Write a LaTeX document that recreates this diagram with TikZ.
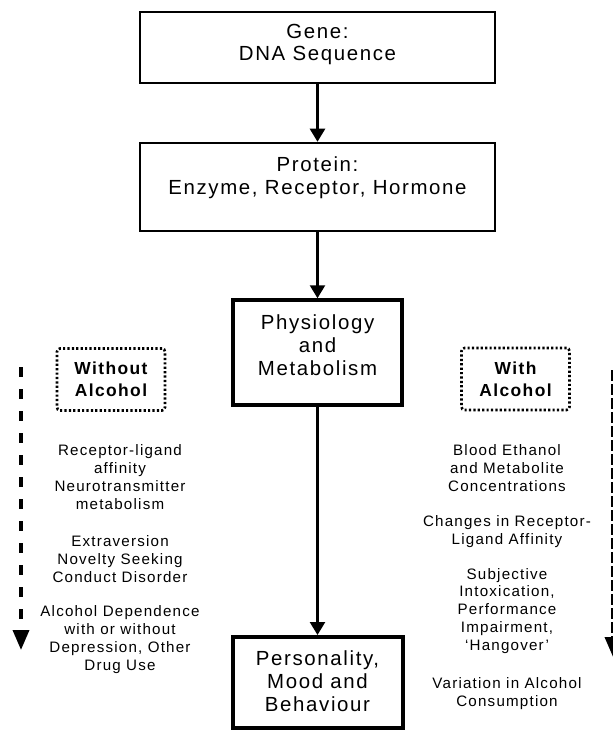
\documentclass[tikz,border=0pt]{standalone}
\usepackage{fontspec}
\setmainfont{Liberation Sans}[LetterSpace=8]
\usetikzlibrary{arrows.meta}

\tikzset{
  stage/.style={draw, line width=#1, rectangle, inner sep=0pt},
  stage/.default=2.5bp,
  stagetext/.style={align=center, inner sep=0pt,
    font=\fontsize{20.5}{23}\selectfont},
  flow/.style={line width=2.5bp, -{Triangle[width=15bp,length=13bp]}},
  condition/.style={draw, dash pattern=on 2.2bp off 2.2bp, line width=2.6bp,
    rounded corners=3bp, minimum width=108bp, minimum height=62bp,
    align=center, inner sep=0pt, font=\bfseries\fontsize{17.5}{22}\selectfont},
  note/.style={align=center, inner sep=0pt, font=\fontsize{15.2}{18}\selectfont},
  trend/.style={line width=3.5bp, -{Triangle[width=16bp,length=20bp]}},
}

\begin{document}
\begin{tikzpicture}[x=1bp, y=-1bp]
\clip (0,0) rectangle (613,732);

% central chain of stages: frames
\node[stage, minimum width=355bp, minimum height=71bp] (gene) at (317.5,47.5) {};
\node[stage, minimum width=355bp, minimum height=88bp] (protein) at (317.5,187) {};
\node[stage=3.5bp, minimum width=169bp, minimum height=105bp] (phys) at (317.5,352.5) {};
\node[stage=4bp, minimum width=170bp, minimum height=91bp] (pers) at (317.5,682.5) {};

% central chain of stages: texts
\node[stagetext] (genetext) at (317.5,44.5) {Gene:\\DNA Sequence};
\node[stagetext] (proteintext) at (317.5,177.5) {Protein:\\Enzyme, Receptor, Hormone};
\node[stagetext] (phystext) at (317.5,345) {Physiology\\and\\Metabolism};
\node[stagetext] (perstext) at (317.5,681.5) {Personality,\\Mood and\\Behaviour};

\draw[flow] (gene) -- (protein);
\draw[flow] (protein) -- (phys);
\draw[flow] (phys) -- (pers);

% conditions
\node[condition] (without) at (111,379.5) {Without\\Alcohol};
\node[condition] (with) at (515.5,379) {With\\Alcohol};

% left column: without alcohol
\node[note] (w1) at (120,477) {Receptor-ligand\\affinity\\Neurotransmitter\\metabolism};
\node[note] (w2) at (120,559) {Extraversion\\Novelty Seeking\\Conduct Disorder};
\node[note] (w3) at (120,639.5) {Alcohol Dependence\\with or without\\Depression, Other\\Drug Use};

% right column: with alcohol
\node[note] (a1) at (507,468) {Blood Ethanol\\and Metabolite\\Concentrations};
\node[note] (a2) at (507,531.5) {Changes in Receptor-\\Ligand Affinity};
\node[note] (a3) at (507,611) {Subjective\\Intoxication,\\Performance\\Impairment,\\‘Hangover’};
\node[note] (a4) at (507,694) {Variation in Alcohol\\Consumption};

% side arrows
\coordinate (lt) at (21,367);
\coordinate (lb) at (21,650);
\draw[trend, dash pattern=on 10bp off 12bp] (lt) -- (lb);
\coordinate (rt) at (613,370);
\coordinate (rb) at (613,657);
\draw[trend, dash pattern=on 11bp off 3bp] (rt) -- (rb);
\end{tikzpicture}
\end{document}
